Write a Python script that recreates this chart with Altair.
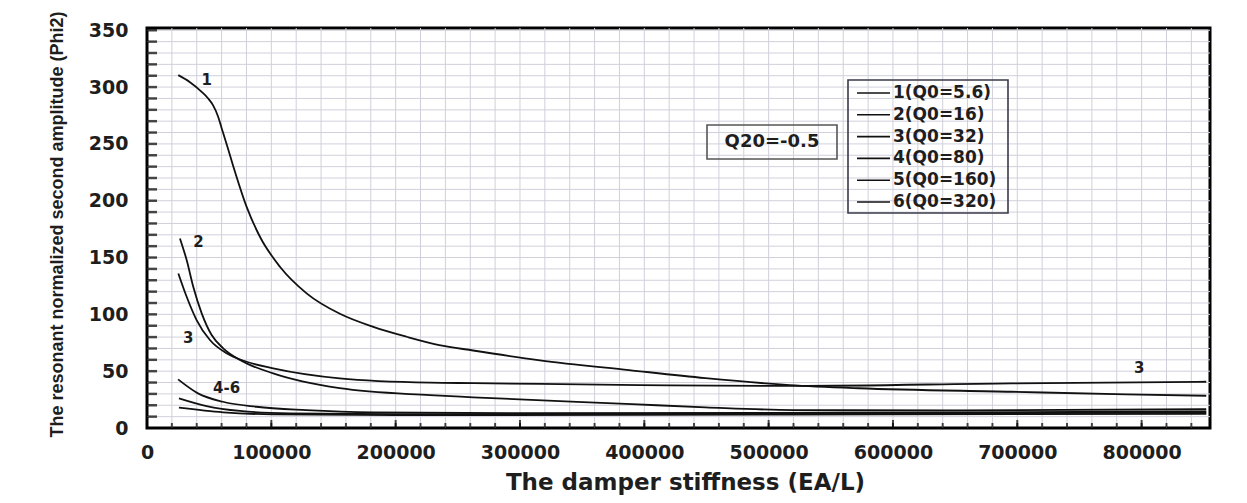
import altair as alt
import pandas as pd

# ---------------- data ----------------
X_MAX = 855000
Y_MAX = 352

c1_x = [25160, 34570, 43970, 49040, 53060, 57080, 60050, 64310, 69380, 80150,
        90840, 106920, 128380, 155150, 182000, 208800, 235000, 262300, 316000, 387700,
        449200, 516900, 572300, 695400, 787700, 852000]
c1_y = [310.5, 304.3, 295.8, 290.2, 284.1, 274.4, 263.8, 248.9, 230.4, 194.6,
        168.3, 141.9, 118.5, 100.5, 89, 80.3, 73, 68.2, 59.6, 51,
        43.9, 37.8, 35, 31.9, 29.6, 28.4]

c2_x = [26500, 31900, 37200, 44000, 52000, 61300, 74800, 101500, 155000, 227600,
        262300, 390000, 449200, 520000, 650000, 852000]
c2_y = [166.8, 147.8, 124.3, 100.9, 81.8, 70.1, 59.8, 48.1, 35, 28.9,
        27, 21, 18.2, 15.8, 15.5, 16.5]

c3_x = [25200, 31900, 39900, 50600, 64000, 80100, 101500, 155000, 227600, 262300,
        396300, 520000, 695400, 852000]
c3_y = [136, 115.5, 95, 77.4, 65.7, 58.3, 52.5, 43.7, 39.9, 39.5,
        37.8, 37, 39.3, 40.7]

c4_x = [25000, 41000, 61000, 88000, 128000, 182000, 300000, 500000, 700000, 852000]
c4_y = [42.8, 30.5, 23.1, 18.7, 15.8, 13.8, 13, 13.2, 14, 14.5]

c5_x = [25700, 47900, 74800, 115000, 200000, 400000, 600000, 852000]
c5_y = [26.1, 19.3, 15, 12.9, 12.2, 12.3, 13, 13.5]

c6_x = [25700, 61300, 101500, 200000, 400000, 600000, 852000]
c6_y = [17.9, 13.8, 12, 11.3, 11.5, 12, 12.5]

series_names = ["1", "2", "3", "4", "5", "6"]
legend_labels = ["1(Q0=5.6)", "2(Q0=16)", "3(Q0=32)", "4(Q0=80)", "5(Q0=160)", "6(Q0=320)"]

curve_label_text = ["1", "2", "3", "4-6", "3"]
curve_label_x = [48000, 41300, 33200, 64000, 798000]
curve_label_y = [306, 164, 79, 35, 52.5]

note_text = "Q20=-0.5"

x_tick_labels = [0, 100000, 200000, 300000, 400000, 500000, 600000, 700000, 800000]
y_tick_labels = [0, 50, 100, 150, 200, 250, 300, 350]
x_grid_vals = list(range(20000, 850001, 20000))
y_grid_vals = list(range(10, 351, 10))
x_minor_ticks = list(range(20000, 850001, 20000))
x_major_ticks = list(range(100000, 800001, 100000))
y_minor_ticks = list(range(10, 351, 10))

# ---------------- build table ----------------
rows = []
for name, xs_, ys_ in zip(series_names, [c1_x, c2_x, c3_x, c4_x, c5_x, c6_x],
                          [c1_y, c2_y, c3_y, c4_y, c5_y, c6_y]):
    for a, b in zip(xs_, ys_):
        rows.append({"series": name, "x": a, "y": b})
df = pd.DataFrame(rows)

W, H = 1063, 400
FONT = "DejaVu Sans"
TXT = "#1e1e1e"

xs = alt.Scale(domain=[0, X_MAX], nice=False, zero=False)
ys = alt.Scale(domain=[0, Y_MAX], nice=False, zero=False)

x_axis = alt.Axis(
    values=x_tick_labels, format="d", ticks=False, domain=False, grid=False,
    labelPadding=15, labelFont=FONT, labelFontSize=19, labelFontWeight="bold",
    labelColor=TXT, labelFlush=False,
    title="The damper stiffness (EA/L)", titleFont=FONT, titleFontSize=23,
    titleFontWeight="bold", titleColor=TXT, titleX=538, titleY=54,
    titleBaseline="middle", titleAlign="center")
y_axis = alt.Axis(
    values=y_tick_labels, ticks=False, domain=False, grid=False,
    labelPadding=19, labelFont=FONT, labelFontSize=19, labelFontWeight="bold",
    labelColor=TXT, labelFlush=False,
    title="The resonant normalized second amplitude (Phi2)",
    titleFont="Liberation Sans", titleFontSize=18, titleFontWeight="bold",
    titleColor=TXT, titleX=-90, titleY=196, titleAngle=270,
    titleBaseline="middle", titleAlign="center")


def X(field):
    return alt.X(field, scale=xs, axis=x_axis)


def Y(field):
    return alt.Y(field, scale=ys, axis=y_axis)


grid_color = "#d0d0dc"
grid_v = alt.Chart(pd.DataFrame({"g": x_grid_vals})).mark_rule(
    color=grid_color, strokeWidth=1).encode(x=X("g:Q"))
grid_h = alt.Chart(pd.DataFrame({"g": y_grid_vals})).mark_rule(
    color=grid_color, strokeWidth=1).encode(y=Y("g:Q"))

curves = alt.Chart(df).mark_line(color="#111", strokeWidth=1.8, interpolate="monotone").encode(
    x=X("x:Q"), y=Y("y:Q"), detail="series:N")

y_ticks = alt.Chart(pd.DataFrame({"t": y_minor_ticks})).mark_tick(
    orient="horizontal", color="black", size=10, thickness=2.5).encode(
    y=Y("t:Q"), x=alt.value(5))
x_ticks = alt.Chart(pd.DataFrame({"t": x_minor_ticks})).mark_tick(
    orient="vertical", color="black", size=5, thickness=2).encode(
    x=X("t:Q"), y=alt.value(H - 2.5))
x_ticks_major = alt.Chart(pd.DataFrame({"t": x_major_ticks})).mark_tick(
    orient="vertical", color="black", size=8, thickness=2).encode(
    x=X("t:Q"), y=alt.value(H - 4))

labels = alt.Chart(pd.DataFrame({"t": curve_label_text, "x": curve_label_x, "y": curve_label_y})).mark_text(
    font=FONT, fontSize=15, fontWeight="bold", color=TXT).encode(
    x=X("x:Q"), y=Y("y:Q"), text="t:N")

# legend box drawn by hand
LEG_Y0, LEG_DY = 65, 21.8
legend_layers = [
    alt.Chart(pd.DataFrame({"a": [0]})).mark_rect(
        fillOpacity=0, stroke="#3a3a4a", strokeWidth=1.6).encode(
        x=alt.value(701), x2=alt.value(861), y=alt.value(52), y2=alt.value(185))
]
for i, lab in enumerate(legend_labels):
    yy = LEG_Y0 + i * LEG_DY
    legend_layers.append(
        alt.Chart(pd.DataFrame({"t": [lab]})).mark_rule(color="#111", strokeWidth=1.6).encode(
            x=alt.value(710), x2=alt.value(743), y=alt.value(yy)))
    legend_layers.append(
        alt.Chart(pd.DataFrame({"t": [lab]})).mark_text(
            align="left", baseline="middle", font=FONT, fontSize=17,
            fontWeight="bold", color=TXT).encode(
            text="t:N", x=alt.value(746), y=alt.value(yy)))

note_layers = [
    alt.Chart(pd.DataFrame({"t": [note_text]})).mark_rect(
        fillOpacity=0, stroke="#555", strokeWidth=1.6).encode(
        x=alt.value(560), x2=alt.value(690), y=alt.value(97), y2=alt.value(131)),
    alt.Chart(pd.DataFrame({"t": [note_text]})).mark_text(
        align="center", baseline="middle", font=FONT, fontSize=18,
        fontWeight="bold", color=TXT).encode(
        text="t:N", x=alt.value(625), y=alt.value(114)),
]

chart = alt.layer(
    grid_v, grid_h, curves, y_ticks, x_ticks, x_ticks_major, labels,
    *legend_layers, *note_layers
).properties(
    width=W, height=H,
    padding={"left": 139, "top": 20, "right": 29, "bottom": 67},
    autosize="none",
    background="white",
).configure_view(stroke="black", strokeWidth=3)

chart.save("out.html", embed_options={"renderer": "svg", "actions": False})
